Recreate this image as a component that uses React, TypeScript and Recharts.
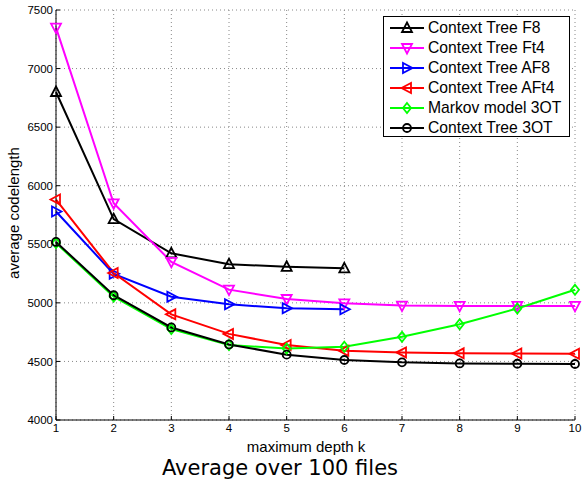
import React from 'react';
import { LineChart, Line, XAxis, YAxis, CartesianGrid } from 'recharts';

const depths = [1, 2, 3, 4, 5, 6, 7, 8, 9, 10];
const ctF8 = [6800, 5715, 5423, 5330, 5308, 5295, null, null, null, null];
const ctFt4 = [7350, 5850, 5350, 5113, 5033, 4996, 4977, 4974, 4974, 4974];
const ctAF8 = [5780, 5248, 5052, 4988, 4954, 4945, null, null, null, null];
const ctAFt4 = [5882, 5255, 4902, 4735, 4640, 4591, 4577, 4569, 4568, 4566];
const markov3OT = [5510, 5053, 4776, 4640, 4610, 4625, 4710, 4817, 4952, 5112];
const ct3OT = [5520, 5065, 4790, 4645, 4558, 4512, 4492, 4483, 4480, 4478];
const yTicks = [4000, 4500, 5000, 5500, 6000, 6500, 7000, 7500];
const seriesNames = [
  'Context Tree F8',
  'Context Tree Ft4',
  'Context Tree AF8',
  'Context Tree AFt4',
  'Markov model 3OT',
  'Context Tree 3OT',
];

const data = depths.map((k, i) => ({
  k,
  f8: ctF8[i],
  ft4: ctFt4[i],
  af8: ctAF8[i],
  aft4: ctAFt4[i],
  mk: markov3OT[i],
  ct3: ct3OT[i],
}));

type Shape = 'up' | 'down' | 'right' | 'left' | 'diamond' | 'circle';

const series: { key: string; name: string; color: string; shape: Shape }[] = [
  { key: 'f8', name: seriesNames[0], color: '#000000', shape: 'up' },
  { key: 'ft4', name: seriesNames[1], color: '#ff00ff', shape: 'down' },
  { key: 'af8', name: seriesNames[2], color: '#0000ff', shape: 'right' },
  { key: 'aft4', name: seriesNames[3], color: '#ff0000', shape: 'left' },
  { key: 'mk', name: seriesNames[4], color: '#00ff00', shape: 'diamond' },
  { key: 'ct3', name: seriesNames[5], color: '#000000', shape: 'circle' },
];

function marker(shape: Shape, cx: number, cy: number, color: string, key?: string) {
  const common = { fill: 'none', stroke: color, strokeWidth: 1.8 };
  switch (shape) {
    case 'up':
      return <polygon key={key} points={`${cx},${cy - 5.5} ${cx + 5},${cy + 4} ${cx - 5},${cy + 4}`} {...common} />;
    case 'down':
      return <polygon key={key} points={`${cx},${cy + 5.5} ${cx + 5},${cy - 4} ${cx - 5},${cy - 4}`} {...common} />;
    case 'right':
      return <polygon key={key} points={`${cx + 5.5},${cy} ${cx - 4},${cy - 5} ${cx - 4},${cy + 5}`} {...common} />;
    case 'left':
      return <polygon key={key} points={`${cx - 5.5},${cy} ${cx + 4},${cy - 5} ${cx + 4},${cy + 5}`} {...common} />;
    case 'diamond':
      return <polygon key={key} points={`${cx},${cy - 5} ${cx + 4},${cy} ${cx},${cy + 5} ${cx - 4},${cy}`} {...common} />;
    default:
      return <circle key={key} cx={cx} cy={cy} r={4} {...common} />;
  }
}

const makeDot = (shape: Shape, color: string) => (props: any) => {
  const { cx, cy, value, index } = props;
  if (cx == null || cy == null || value == null || Number.isNaN(cy)) return <g key={`e-${index}`} />;
  return marker(shape, cx, cy, color, `d-${index}`);
};

const noTick = () => <g />;
const tickStyle = { fontFamily: '"Liberation Sans", Arial, sans-serif', fontSize: 11.5, fill: '#000' };
const font = '"Liberation Sans", Arial, sans-serif';

export default function App() {
  return (
    <div style={{ position: 'absolute', left: 0, top: 0, width: 583, height: 484, background: '#fff' }}>
      <LineChart width={583} height={484} data={data} margin={{ top: 10, right: 8, bottom: 44, left: 0 }}>
        <CartesianGrid stroke="#888" strokeDasharray="1 3" />
        <XAxis
          dataKey="k"
          type="number"
          domain={[1, 10]}
          ticks={depths}
          height={20}
          tickSize={-4}
          tickMargin={8}
          tick={tickStyle}
          stroke="#000"
          axisLine={{ stroke: '#000' }}
          tickLine={{ stroke: '#000' }}
          interval={0}
        />
        <XAxis
          xAxisId="top"
          orientation="top"
          type="number"
          domain={[1, 10]}
          ticks={depths}
          height={0}
          tickSize={-4}
          tick={noTick}
          axisLine={{ stroke: '#000' }}
          tickLine={{ stroke: '#000' }}
          interval={0}
        />
        <YAxis
          type="number"
          domain={[4000, 7500]}
          ticks={yTicks}
          width={56}
          tickSize={-4}
          tickMargin={7}
          tick={tickStyle}
          axisLine={{ stroke: '#000' }}
          tickLine={{ stroke: '#000' }}
          interval={0}
        />
        <YAxis
          yAxisId="right"
          orientation="right"
          type="number"
          domain={[4000, 7500]}
          ticks={yTicks}
          width={0}
          tickSize={-4}
          tick={noTick}
          axisLine={{ stroke: '#000' }}
          tickLine={{ stroke: '#000' }}
          interval={0}
        />
        {series.map((s) => (
          <Line
            key={s.key}
            dataKey={s.key}
            name={s.name}
            stroke={s.color}
            strokeWidth={2}
            dot={makeDot(s.shape, s.color)}
            activeDot={false}
            isAnimationActive={false}
            connectNulls={false}
          />
        ))}
      </LineChart>

      <div
        style={{
          position: 'absolute',
          left: 383,
          top: 16,
          width: 187,
          height: 121,
          boxSizing: 'border-box',
          border: '1px solid #000',
          background: '#fff',
          fontFamily: font,
          fontSize: 15.7,
        }}
      >
        {series.map((s, i) => (
          <div
            key={s.key}
            style={{ position: 'absolute', left: 0, top: 1 + i * 20, height: 20, display: 'flex', alignItems: 'center', whiteSpace: 'nowrap' }}
          >
            <svg width={44} height={20} style={{ display: 'block' }}>
              <line x1={6} y1={10} x2={40} y2={10} stroke={s.color} strokeWidth={2} />
              {marker(s.shape, 23, 10, s.color)}
            </svg>
            <span style={{ lineHeight: '20px' }}>{s.name}</span>
          </div>
        ))}
      </div>

      <div
        style={{
          position: 'absolute',
          left: 13,
          top: 213,
          transform: 'translate(-50%, -50%) rotate(-90deg)',
          whiteSpace: 'nowrap',
          fontFamily: font,
          fontSize: 15,
        }}
      >
        average codelength
      </div>
      <div
        style={{
          position: 'absolute',
          left: 306,
          top: 446,
          transform: 'translate(-50%, -50%)',
          whiteSpace: 'nowrap',
          fontFamily: font,
          fontSize: 15,
        }}
      >
        maximum depth k
      </div>
      <div
        style={{
          position: 'absolute',
          left: 280,
          top: 468,
          transform: 'translate(-50%, -50%)',
          whiteSpace: 'nowrap',
          fontFamily: '"DejaVu Sans", sans-serif',
          fontSize: 21,
        }}
      >
        Average over 100 files
      </div>
    </div>
  );
}
